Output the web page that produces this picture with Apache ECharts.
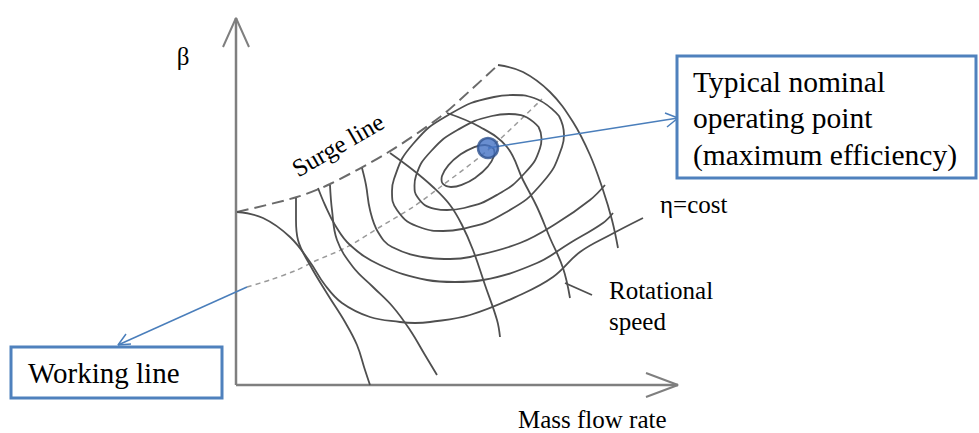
<!DOCTYPE html>
<html>
<head>
<meta charset="utf-8">
<script src="https://cdn.jsdelivr.net/npm/echarts@6/dist/echarts.min.js"></script>
<style>html,body{margin:0;padding:0;background:#fff;}#c{width:979px;height:433px;}</style>
</head>
<body>
<div id="c"></div>
<script>
// Coordinates: x = mass flow rate, y = pressure ratio beta (axis origin at 0,0)
const yAxisLine = [[0, 0], [0, 367]];
const yAxisHead = [[-13, 338], [0, 367], [13, 338]];
const xAxisLine = [[0, 0], [442, 0]];
const xAxisHead = [[410, 12], [442, 0], [410, -12]];

const surgeLine = [[1,173],[61,188],[94,201],[151,232],[204,268],[237,297],[262,320]];
const workingLine = [[11,98],[34,105],[61,115],[77,123],[111,138],[144,158],[177,178],[207,200],[252,235],[306,286]];

// constant rotational speed lines
const speed0 = [[262,320],[287,313],[314,293],[337,263],[354,230],[367,195],[376,165],[382,137]];
const speed1 = [[211,272],[244,258],[271,238],[287,205],[301,178],[314,147],[327,117],[334,87]];
const speed2 = [[154,232],[177,215],[197,198],[214,180],[226,160],[237,135],[249,100],[261,65],[264,48]];
const speed3 = [[94,200],[96,175],[101,145],[117,118],[137,98],[157,78],[174,55],[189,30],[201,10]];
const speed4 = [[60,187],[60,165],[62,145],[74,120],[92,90],[109,63],[121,40],[129,15],[134,0]];

// constant efficiency contours
const eff0 = [[257.3,236.7],[258.5,232.5],[257.9,228.7],[251.5,218.1],[239.9,207.7],[226.2,200.3],[215,198],[206.7,201.3],[205.5,205.5],[206.1,209.2],[212.5,219.9],[224.1,230.3],[237.8,237.7],[249,240],[257.3,236.7]];
const eff1 = [[302.6,258],[305.5,246.6],[304,236.8],[288.8,212],[261,190.1],[228.2,177],[211,175],[199,176.2],[181.4,188],[178.5,199.4],[180,209.2],[195.2,234],[223,255.9],[255.8,269],[273,271],[285,269.8],[302.6,258]];
const eff2 = [[323,269],[328,250],[326,238],[307,203],[270.5,173],[226,156],[207,154],[186,157],[161,175],[156,194],[158,206],[177,241],[214,271],[258,288],[277,290],[298,287],[323,269]];
const eff3 = [[126,217],[130,200],[134,175],[142,153],[156,138],[194,127],[214,126],[234,128],[284,142],[321,162],[354,185],[369,200]];
const eff4 = [[82,197],[89,180],[99,160],[114,140],[144,120],[191,105],[219,103],[247,105],[301,122],[334,142],[367,162],[377,172]];
const eff5 = [[1,173],[27,167],[54,148],[74,123],[89,100],[106,82],[134,68],[164,63],[179,62],[194,63],[234,70],[284,90],[317,108],[344,133],[374,150],[407,167]];

const speedPointer = [[329,102],[356,90]];
const nominalPoint = [[252,237]];
const nominalArrow = [[252,237],[442,267]];
const nominalArrowHead = [[429,272],[442,267],[431,258]];
const workingArrow = [[11,98],[-118,40]];
const workingArrowHead = [[-105,41],[-118,40],[-110,51]];

const SERIF = "'Liberation Serif','Times New Roman',serif";
const grayCurve = {color:'#4f4f4f', width:1.8};

function line(data, style, smooth, z) {
  return {type:'line', data:data, smooth:smooth, symbol:'none', showSymbol:false,
          lineStyle:style, silent:true, animation:false, z:z||2};
}

const chart = echarts.init(document.getElementById('c'), null, {renderer:'svg'});
chart.setOption({
  animation:false,
  backgroundColor:'#ffffff',
  grid:{left:0, right:0, top:0, bottom:0},
  xAxis:{type:'value', min:-236, max:743, show:false},
  yAxis:{type:'value', min:-48, max:385, show:false},
  series:[
    line(yAxisLine, {color:'#7f7f7f', width:2.5}, false, 1),
    line(yAxisHead, {color:'#7f7f7f', width:2}, false, 1),
    line(xAxisLine, {color:'#7f7f7f', width:2.5}, false, 1),
    line(xAxisHead, {color:'#7f7f7f', width:2}, false, 1),
    line(surgeLine, {color:'#6a6a6a', width:2, type:[12,6]}, 0.3),
    line(workingLine, {color:'#9a9a9a', width:1.5, type:[5,4]}, 0.3),
    line(speed0, grayCurve, 0.4),
    line(speed1, grayCurve, 0.4),
    line(speed2, grayCurve, 0.4),
    line(speed3, grayCurve, 0.4),
    line(speed4, grayCurve, 0.4),
    line(eff0, grayCurve, 0.5),
    line(eff1, grayCurve, 0.5),
    line(eff2, grayCurve, 0.5),
    line(eff3, grayCurve, 0.4),
    line(eff4, grayCurve, 0.4),
    line(eff5, grayCurve, 0.4),
    line(speedPointer, grayCurve, false),
    line(nominalArrow, {color:'#4a7ebb', width:1.5}, false, 5),
    line(nominalArrowHead, {color:'#4a7ebb', width:1.5}, false, 5),
    line(workingArrow, {color:'#4a7ebb', width:1.5}, false, 5),
    line(workingArrowHead, {color:'#4a7ebb', width:1.5}, false, 5),
    {type:'scatter', data:nominalPoint, symbolSize:20, silent:true, z:6,
     itemStyle:{color:'#4472c4', borderColor:'#2f528f', borderWidth:2.5}}
  ],
  graphic:[
    {type:'rect', shape:{x:677, y:56, width:299, height:122}, z:10,
     style:{fill:'#ffffff', stroke:'#4f81bd', lineWidth:3}},
    {type:'text', x:693, y:82, z:11, style:{text:'Typical nominal', font:'29.5px '+SERIF, fill:'#000', verticalAlign:'middle'}},
    {type:'text', x:693, y:118, z:11, style:{text:'operating point', font:'29.5px '+SERIF, fill:'#000', verticalAlign:'middle'}},
    {type:'text', x:693, y:155, z:11, style:{text:'(maximum efficiency)', font:'29.5px '+SERIF, fill:'#000', verticalAlign:'middle'}},
    {type:'rect', shape:{x:11, y:347, width:211, height:51}, z:10,
     style:{fill:'#ffffff', stroke:'#4f81bd', lineWidth:3}},
    {type:'text', x:28, y:373, z:11, style:{text:'Working line', font:'29px '+SERIF, fill:'#000', verticalAlign:'middle'}},
    {type:'text', x:183, y:56, z:11, style:{text:'β', font:'25px '+SERIF, fill:'#000', align:'center', verticalAlign:'middle'}},
    {type:'text', x:338, y:145, rotation:Math.PI/6, z:11, style:{text:'Surge line', font:'25px '+SERIF, fill:'#000', align:'center', verticalAlign:'middle'}},
    {type:'text', x:660, y:204, z:11, style:{text:'η=cost', font:'25px '+SERIF, fill:'#000', verticalAlign:'middle'}},
    {type:'text', x:609, y:290, z:11, style:{text:'Rotational', font:'25px '+SERIF, fill:'#000', verticalAlign:'middle'}},
    {type:'text', x:609, y:321, z:11, style:{text:'speed', font:'25px '+SERIF, fill:'#000', verticalAlign:'middle'}},
    {type:'text', x:518, y:419, z:11, style:{text:'Mass flow rate', font:'25px '+SERIF, fill:'#000', verticalAlign:'middle'}}
  ]
});
</script>
</body>
</html>
